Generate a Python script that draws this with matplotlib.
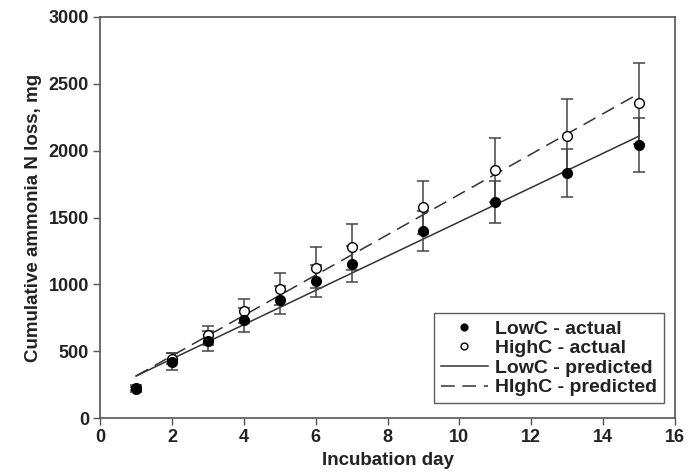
import matplotlib.pyplot as plt

plt.rcParams['font.family'] = ['Liberation Sans', 'DejaVu Sans']
plt.rcParams['font.weight'] = 'bold'

# Observed values
days = [1, 2, 3, 4, 5, 6, 7, 9, 11, 13, 15]
low_actual = [215, 421, 576, 733, 883, 1025, 1152, 1399, 1618, 1835, 2042]
low_err = [20, 65, 72, 90, 107, 122, 132, 147, 157, 178, 205]
high_actual = [228, 445, 620, 800, 965, 1124, 1281, 1576, 1855, 2109, 2354]
high_err = [20, 40, 70, 90, 122, 153, 170, 200, 237, 277, 303]

# Predicted lines (end points)
pred_days = [1, 15]
low_pred = [314, 2109]
high_pred = [314, 2428]

fig = plt.figure(figsize=(6.97, 4.76), dpi=100)
ax = fig.add_axes([0.1435, 0.1218, 0.825, 0.8425])

line_col = '#333333'
txt_col = '#222222'

ax.plot(pred_days, low_pred, '-', color=line_col, lw=1.1, label='LowC - predicted')
ax.plot(pred_days, high_pred, '--', color=line_col, lw=1.1, dashes=(9, 5), label='HIghC - predicted')

ax.errorbar(days, high_actual, yerr=high_err, fmt='none', ecolor='#444444',
            elinewidth=1.1, capsize=4.5, capthick=1.1)
ax.errorbar(days, low_actual, yerr=low_err, fmt='none', ecolor='#444444',
            elinewidth=1.1, capsize=4.5, capthick=1.1)
ax.plot(days, high_actual, 'o', mfc='white', mec='black', mew=1.0, ms=7,
        ls='none', label='HighC - actual', zorder=4)
ax.plot(days, low_actual, 'o', mfc='black', mec='black', ms=7,
        ls='none', label='LowC - actual', zorder=5)

ax.set_xlim(0, 16)
ax.set_ylim(0, 3000)
ax.set_xticks(range(0, 17, 2))
ax.set_yticks(range(0, 3001, 500))
ax.tick_params(direction='out', length=5, width=1, color='#555555',
               labelsize=13, labelcolor=txt_col, pad=3)
for s in ax.spines.values():
    s.set_color('#555555')
    s.set_linewidth(1.2)

ax.set_xlabel('Incubation day', fontsize=13.5, fontweight='bold', color=txt_col, labelpad=4)
ax.set_ylabel('Cumulative ammonia N loss, mg', fontsize=13.5, fontweight='bold', color=txt_col, labelpad=5)

handles, labels = ax.get_legend_handles_labels()
order = [3, 2, 0, 1]
leg = ax.legend([handles[i] for i in order], [labels[i] for i in order],
                loc='lower right', bbox_to_anchor=(0.981, 0.037), borderaxespad=0,
                fontsize=14, frameon=True, fancybox=False, handlelength=2.4,
                handletextpad=0.4, borderpad=0.35, labelspacing=0.1, markerscale=0.7)
for t in leg.get_texts():
    t.set_color(txt_col)
leg.get_frame().set_edgecolor('#333333')
leg.get_frame().set_linewidth(1.0)

fig.savefig('out.png', dpi=100)
